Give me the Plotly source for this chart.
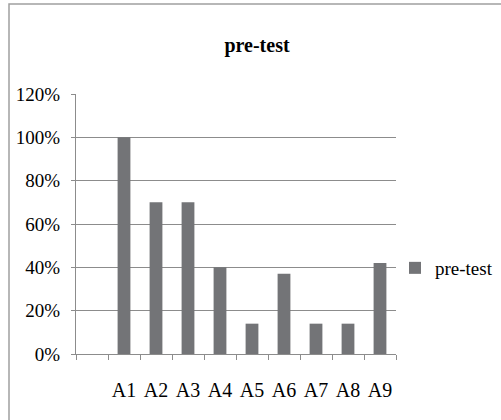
import plotly.graph_objects as go

categories = [" ", "A1", "A2", "A3", "A4", "A5", "A6", "A7", "A8", "A9"]
values = [None, 1.00, 0.70, 0.70, 0.40, 0.14, 0.37, 0.14, 0.14, 0.42]
series_name = "pre-test"
title_text = "pre-test"

W, H = 501, 420
L, R, T, B = 76, 105, 94, 66
pw, ph = W - L - R, H - T - B

def px_x(x):
    return (x - L) / pw

def px_y(y):
    return (H - B - y) / ph

font_family = "Liberation Serif, Times New Roman, serif"
grid = "#8c8c8c"

fig = go.Figure()
fig.add_trace(go.Bar(
    x=categories, y=values, name=series_name,
    marker=dict(color="#737477", line=dict(width=0)),
    width=0.4, showlegend=True,
))

fig.update_layout(
    width=W, height=H, autosize=False,
    margin=dict(l=L, r=R, t=T, b=B, pad=0, autoexpand=False),
    paper_bgcolor="white", plot_bgcolor="white",
    font=dict(family=font_family, size=20, color="black"),
    title=dict(text="<b>" + title_text + "</b>", x=px_x(257), xref="paper",
               xanchor="center", y=1 - 45 / H, yref="container", yanchor="middle",
               font=dict(family=font_family, size=20, color="black")),
    showlegend=True,
    legend=dict(x=395 / W, xref="container", y=1 - 268 / H, yref="container",
                xanchor="left", yanchor="middle",
                font=dict(family=font_family, size=19, color="black"),
                bgcolor="rgba(0,0,0,0)", itemwidth=30),
    bargap=0.6,
    xaxis=dict(type="category", categoryorder="array", categoryarray=categories,
               range=[-0.5, 9.5], showgrid=False, showline=True, linecolor=grid,
               linewidth=1.3, ticks="outside", tickson="boundaries", ticklen=5,
               tickcolor=grid, tickwidth=1.3, ticklabelstandoff=18, tickangle=0,
               tickfont=dict(family=font_family, size=20, color="black"),
               fixedrange=True, automargin=False),
    yaxis=dict(range=[0, 1.2], dtick=0.2, tick0=0, tickformat=".0%",
               showgrid=True, gridcolor=grid, gridwidth=1.3,
               showline=True, linecolor=grid, linewidth=1.3,
               ticks="outside", ticklen=4, tickcolor=grid, tickwidth=1.3,
               ticklabelstandoff=7, zeroline=False,
               tickfont=dict(family=font_family, size=19, color="black"),
               fixedrange=True, automargin=False),
    shapes=[dict(type="rect", xref="paper", yref="paper",
                 x0=px_x(9), x1=px_x(520), y0=px_y(440), y1=px_y(4),
                 line=dict(color="#a0a0a0", width=1.5), fillcolor="rgba(0,0,0,0)",
                 layer="below")],
)

fig.write_html("out.html", config={"displayModeBar": False},
               post_script="document.body.style.margin='0';")
